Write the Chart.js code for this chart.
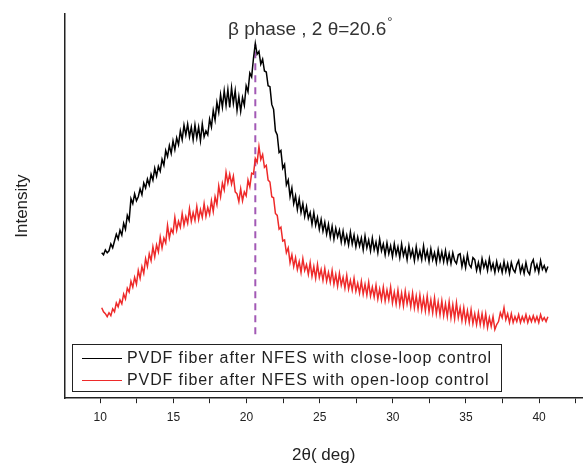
<!DOCTYPE html>
<html>
<head>
<meta charset="utf-8">
<script src="https://cdn.jsdelivr.net/npm/chart.js@4.4.1/dist/chart.umd.min.js"></script>
<style>
  html, body { margin: 0; padding: 0; background: #fff; }
  canvas { display: block; }
</style>
</head>
<body>
<canvas id="xrdChart" width="583" height="466"></canvas>
<script>
// 2-theta positions (deg), one row per degree
const twoTheta = [
  10.1, 10.225, 10.35, 10.475, 10.6, 10.725, 10.85, 10.975,
  11.1, 11.225, 11.35, 11.475, 11.6, 11.725, 11.85, 11.975,
  12.1, 12.225, 12.35, 12.475, 12.6, 12.725, 12.85, 12.975,
  13.1, 13.225, 13.35, 13.475, 13.6, 13.725, 13.85, 13.975,
  14.1, 14.225, 14.35, 14.475, 14.6, 14.725, 14.85, 14.975,
  15.1, 15.225, 15.35, 15.475, 15.6, 15.725, 15.85, 15.975,
  16.1, 16.225, 16.35, 16.475, 16.6, 16.725, 16.85, 16.975,
  17.1, 17.225, 17.35, 17.475, 17.6, 17.725, 17.85, 17.975,
  18.1, 18.225, 18.35, 18.475, 18.6, 18.725, 18.85, 18.975,
  19.1, 19.225, 19.35, 19.475, 19.6, 19.725, 19.85, 19.975,
  20.1, 20.225, 20.35, 20.475, 20.6, 20.725, 20.85, 20.975,
  21.1, 21.225, 21.35, 21.475, 21.6, 21.725, 21.85, 21.975,
  22.1, 22.225, 22.35, 22.475, 22.6, 22.725, 22.85, 22.975,
  23.1, 23.225, 23.35, 23.475, 23.6, 23.725, 23.85, 23.975,
  24.1, 24.225, 24.35, 24.475, 24.6, 24.725, 24.85, 24.975,
  25.1, 25.225, 25.35, 25.475, 25.6, 25.725, 25.85, 25.975,
  26.1, 26.225, 26.35, 26.475, 26.6, 26.725, 26.85, 26.975,
  27.1, 27.225, 27.35, 27.475, 27.6, 27.725, 27.85, 27.975,
  28.1, 28.225, 28.35, 28.475, 28.6, 28.725, 28.85, 28.975,
  29.1, 29.225, 29.35, 29.475, 29.6, 29.725, 29.85, 29.975,
  30.1, 30.225, 30.35, 30.475, 30.6, 30.725, 30.85, 30.975,
  31.1, 31.225, 31.35, 31.475, 31.6, 31.725, 31.85, 31.975,
  32.1, 32.225, 32.35, 32.475, 32.6, 32.725, 32.85, 32.975,
  33.1, 33.225, 33.35, 33.475, 33.6, 33.725, 33.85, 33.975,
  34.1, 34.225, 34.35, 34.475, 34.6, 34.725, 34.85, 34.975,
  35.1, 35.225, 35.35, 35.475, 35.6, 35.725, 35.85, 35.975,
  36.1, 36.225, 36.35, 36.475, 36.6, 36.725, 36.85, 36.975,
  37.1, 37.225, 37.35, 37.475, 37.6, 37.725, 37.85, 37.975,
  38.1, 38.225, 38.35, 38.475, 38.6, 38.725, 38.85, 38.975,
  39.1, 39.225, 39.35, 39.475, 39.6, 39.725, 39.85, 39.975,
  40.1, 40.225, 40.35, 40.475, 40.6
];

// intensity (a.u.), close-loop control
const closeLoop = [
  148, 146, 151, 148, 150, 157, 153, 160,
  167, 162, 171, 166, 178, 172, 186, 181,
  203, 198, 208, 201, 205, 213, 207, 219,
  214, 223, 217, 228, 222, 234, 226, 236,
  231, 243, 237, 252, 246, 257, 249, 262,
  253, 265, 258, 272, 263, 278, 268, 279,
  266, 276, 263, 278, 265, 276, 262, 279,
  266, 272, 268, 284, 276, 293, 283, 301,
  291, 309, 296, 313, 298, 314, 296, 316,
  300, 313, 293, 307, 292, 306, 298, 318,
  312, 331, 327, 346, 361, 350, 353, 340,
  345, 333, 332, 318, 317, 299, 294, 272,
  268, 250, 252, 234, 238, 217, 222, 205,
  214, 198, 206, 192, 203, 189, 198, 185,
  195, 183, 189, 177, 189, 176, 184, 172,
  182, 170, 179, 167, 177, 164, 175, 162,
  173, 164, 171, 159, 170, 158, 166, 156,
  169, 157, 166, 154, 164, 155, 163, 151,
  165, 153, 161, 150, 163, 151, 159, 148,
  162, 150, 157, 146, 158, 147, 155, 144,
  157, 146, 154, 143, 157, 145, 152, 141,
  155, 144, 151, 140, 154, 142, 150, 141,
  155, 142, 150, 139, 152, 141, 148, 138,
  151, 140, 149, 139, 150, 138, 147, 137,
  148, 140, 137, 146, 147, 134, 143, 133,
  146, 136, 133, 143, 141, 130, 138, 129,
  142, 133, 139, 130, 142, 131, 137, 128,
  139, 130, 136, 128, 139, 129, 137, 127,
  138, 131, 128, 136, 140, 128, 135, 127,
  138, 129, 126, 137, 141, 130, 136, 128,
  140, 131, 135, 129, 134
];

// intensity (a.u.), open-loop control
const openLoop = [
  92, 88, 86, 83, 87, 84, 91, 88,
  97, 93, 100, 96, 106, 101, 112, 108,
  119, 113, 123, 116, 130, 122, 134, 127,
  142, 134, 147, 140, 154, 144, 156, 149,
  164, 153, 163, 158, 176, 163, 172, 168,
  184, 171, 180, 174, 188, 176, 185, 178,
  193, 180, 189, 181, 195, 182, 192, 184,
  198, 185, 194, 187, 201, 190, 205, 197,
  216, 205, 219, 212, 230, 219, 228, 218,
  226, 210, 208, 200, 213, 201, 210, 206,
  222, 215, 229, 228, 244, 240, 256, 243,
  248, 235, 237, 222, 220, 205, 204, 188,
  186, 172, 174, 160, 161, 148, 153, 138,
  146, 134, 143, 131, 139, 128, 142, 130,
  136, 126, 138, 124, 134, 122, 136, 123,
  131, 120, 132, 119, 128, 118, 130, 116,
  126, 114, 127, 115, 123, 112, 125, 111,
  120, 110, 122, 109, 117, 107, 119, 106,
  116, 105, 118, 104, 113, 103, 115, 101,
  111, 100, 113, 99, 110, 100, 113, 97,
  108, 96, 110, 95, 107, 94, 109, 96,
  106, 93, 107, 92, 104, 91, 105, 90,
  102, 89, 104, 88, 100, 87, 102, 86,
  98, 85, 99, 84, 96, 83, 98, 82,
  95, 81, 97, 82, 92, 79, 92, 78,
  89, 77, 90, 76, 86, 75, 87, 75,
  86, 74, 86, 72, 82, 73, 83, 70,
  75, 78, 87, 82, 92, 80, 86, 77,
  86, 77, 83, 78, 85, 77, 83, 78,
  85, 77, 83, 78, 84, 78, 83, 77,
  85, 79, 82, 78, 83
];

// beta-phase marker
const betaX = [20.6, 20.6];
const betaY = [65, 360];

const seriesLabels = [
  'PVDF fiber after NFES with close-loop control',
  'PVDF fiber after NFES with open-loop control'
];

const FONT = "'Liberation Sans', Arial, sans-serif";

const toPoints = (xs, ys) => xs.map((x, i) => ({x: x, y: ys[i]}));

// annotation text and boxed legend
const overlay = {
    id: 'overlay',
    afterDraw(chart) {
        const ctx = chart.ctx;
        ctx.save();

        // peak annotation
        ctx.fillStyle = '#333';
        ctx.textBaseline = 'alphabetic';
        ctx.font = '19px ' + FONT;
        const note = 'β phase , 2 θ=20.6';
        ctx.fillText(note, 228, 35);
        const w = ctx.measureText(note).width;
        ctx.font = '13px ' + FONT;
        ctx.fillText('°', 228 + w + 1, 26);

        // legend box
        ctx.strokeStyle = '#222';
        ctx.lineWidth = 1;
        ctx.strokeRect(72.5, 344.5, 429, 47);
        ctx.font = '16px ' + FONT;
        ctx.letterSpacing = '0.9px';
        ctx.textBaseline = 'middle';
        const rows = [358, 380];
        chart.data.datasets.slice(0, 2).forEach((ds, i) => {
            ctx.strokeStyle = ds.borderColor;
            ctx.lineWidth = 1;
            ctx.beginPath();
            ctx.moveTo(82, rows[i] + 0.5);
            ctx.lineTo(122, rows[i] + 0.5);
            ctx.stroke();
            ctx.fillStyle = '#222';
            ctx.fillText(ds.label, 127, rows[i] + 1);
        });
        ctx.restore();
    }
};

new Chart(document.getElementById('xrdChart').getContext('2d'), {
    type: 'line',
    data: {
        datasets: [
            {
                label: seriesLabels[0],
                data: toPoints(twoTheta, closeLoop),
                borderColor: '#000000',
                borderWidth: 1.5,
                pointRadius: 0,
                fill: false
            },
            {
                label: seriesLabels[1],
                data: toPoints(twoTheta, openLoop),
                borderColor: '#ee2a2a',
                borderWidth: 1.5,
                pointRadius: 0,
                fill: false
            },
            {
                label: 'beta',
                data: toPoints(betaX, betaY),
                borderColor: '#a259b5',
                borderWidth: 2,
                borderDash: [7, 5],
                pointRadius: 0,
                fill: false
            }
        ]
    },
    options: {
        responsive: false,
        animation: false,
        devicePixelRatio: 1,
        layout: {padding: {top: 14, left: 0, right: 0, bottom: 0}},
        plugins: {
            legend: {display: false},
            tooltip: {enabled: false}
        },
        scales: {
            x: {
                type: 'linear',
                min: 7.55,
                max: 43,
                border: {display: true, color: '#222', width: 1.5},
                grid: {
                    display: true,
                    drawOnChartArea: false,
                    drawTicks: true,
                    tickLength: 5,
                    tickColor: '#222',
                    tickWidth: 1
                },
                ticks: {
                    stepSize: 2.5,
                    includeBounds: false,
                    autoSkip: false,
                    maxRotation: 0,
                    padding: 7,
                    color: '#222',
                    font: {family: FONT, size: 12},
                    callback: v => (v % 5 === 0 ? String(v) : '')
                },
                title: {
                    display: true,
                    text: '2θ( deg)',
                    color: '#222',
                    font: {family: FONT, size: 17},
                    padding: {top: 14, bottom: 0}
                }
            },
            y: {
                min: 0,
                max: 391,
                border: {display: true, color: '#222', width: 1.5},
                grid: {display: false, drawTicks: false},
                ticks: {display: false},
                title: {
                    display: true,
                    text: 'Intensity',
                    color: '#222',
                    font: {family: FONT, size: 17},
                    padding: {top: 12, bottom: 32}
                }
            }
        }
    },
    plugins: [overlay]
});
</script>
</body>
</html>
